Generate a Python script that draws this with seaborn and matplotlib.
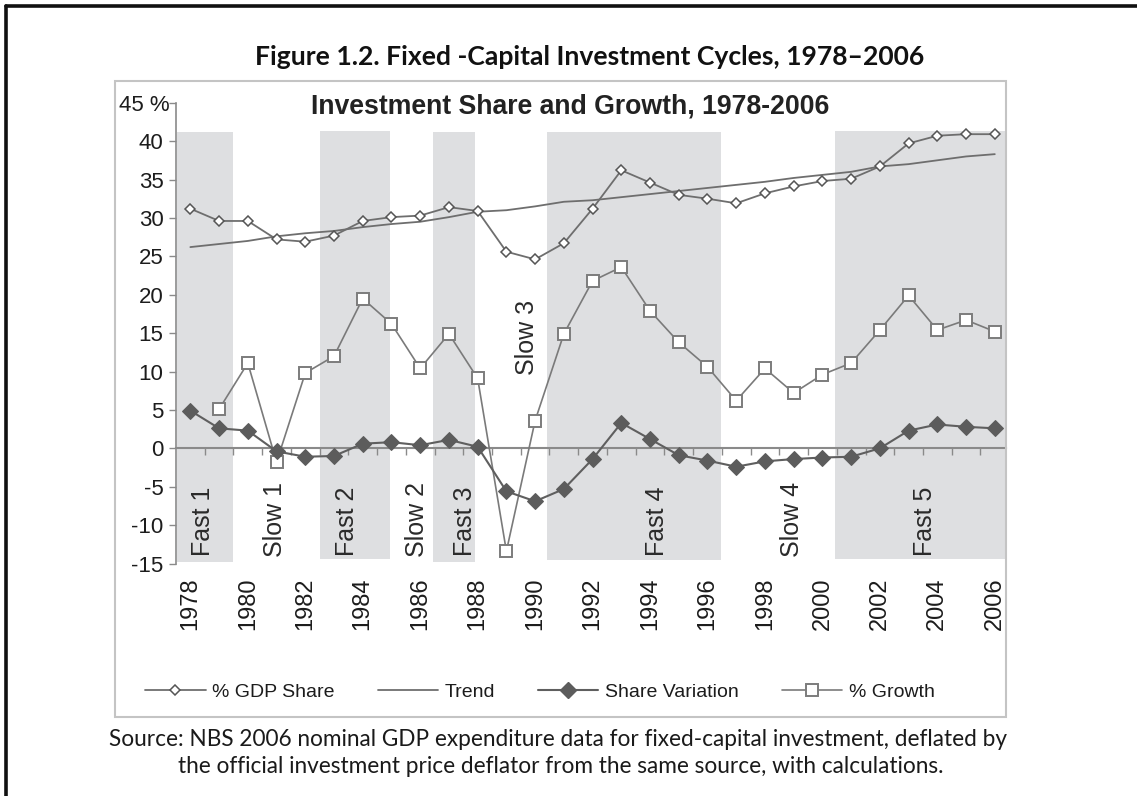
import numpy as np
import pandas as pd
import matplotlib
matplotlib.use("Agg")
import matplotlib.pyplot as plt
import seaborn as sns
from matplotlib.patches import Rectangle
from matplotlib.lines import Line2D

# ---------------- data ----------------
years = list(range(1978, 2007))
gdp_share = [31.2, 29.6, 29.6, 27.2, 26.9, 27.7, 29.6, 30.1, 30.3, 31.4,
             30.9, 25.6, 24.6, 26.7, 31.2, 36.2, 34.6, 33.0, 32.5, 31.9,
             33.2, 34.1, 34.8, 35.1, 36.7, 39.7, 40.7, 40.9, 40.9]
trend = [26.2, 26.6, 27.0, 27.6, 28.0, 28.3, 28.8, 29.2, 29.5, 30.1,
         30.8, 31.0, 31.5, 32.1, 32.3, 32.7, 33.1, 33.5, 33.9, 34.3,
         34.7, 35.2, 35.6, 36.0, 36.7, 37.0, 37.5, 38.0, 38.3]
share_var = [4.9, 2.6, 2.3, -0.4, -1.1, -1.0, 0.6, 0.8, 0.4, 1.1,
             0.2, -5.6, -6.9, -5.3, -1.4, 3.3, 1.2, -0.9, -1.6, -2.4,
             -1.7, -1.4, -1.2, -1.1, 0.0, 2.3, 3.1, 2.8, 2.6]
growth_years = years[1:]
growth = [5.1, 11.1, -1.8, 9.8, 12.0, 19.5, 16.2, 10.4, 14.9, 9.1,
          -13.4, 3.6, 14.9, 21.8, 23.6, 17.9, 13.8, 10.6, 6.2, 10.4,
          7.2, 9.6, 11.1, 15.4, 19.9, 15.4, 16.7, 15.2]

band_start = [1977.54, 1982.52, 1986.44, 1990.41, 2000.43]
band_end = [1979.49, 1984.96, 1987.91, 1996.47, 2006.40]
band_top = [41.2, 41.3, 41.2, 41.2, 41.3]
band_bottom = [-14.8, -14.4, -14.8, -14.6, -14.4]

cycle_names = ["Fast 1", "Slow 1", "Fast 2", "Slow 2", "Fast 3",
               "Slow 3", "Fast 4", "Slow 4", "Fast 5"]
cycle_x = [1978.45, 1980.96, 1983.46, 1985.9, 1987.57,
           1989.71, 1994.23, 1998.93, 2003.57]
cycle_y = [-14.0, -14.1, -14.0, -14.1, -14.0, 9.5, -14.0, -14.1, -14.0]

y_ticks = [-15, -10, -5, 0, 5, 10, 15, 20, 25, 30, 35, 40, 45]
y_tick_labels = ["-15", "-10", "-5", "0", "5", "10", "15", "20", "25",
                 "30", "35", "40", "45 %"]
x_label_years = years[::2]

series_names = ["% GDP Share", "Trend", "Share Variation", "% Growth"]

fig_title = "Figure 1.2. Fixed -Capital Investment Cycles, 1978\u20132006"
chart_title = "Investment Share and Growth, 1978-2006"
source_lines = [
    "Source: NBS 2006 nominal GDP expenditure data for fixed-capital investment, deflated by",
    "the official investment price deflator from the same source, with calculations.",
]

# ---------------- style ----------------
sns.set_theme(style="white")
plt.rcParams["font.family"] = ["Liberation Sans", "DejaVu Sans"]

W, H = 1137, 796
fig = plt.figure(figsize=(W / 100, H / 100), dpi=100)
fig.patch.set_facecolor("white")

def fx(px):
    return px / W

def fy(py):
    return 1 - py / H

ax_left, ax_right, ax_top, ax_bottom = 176, 1006, 102.7, 563.5
ax = fig.add_axes([fx(ax_left), fy(ax_bottom), fx(ax_right - ax_left),
                   (ax_bottom - ax_top) / H])
ax.set_facecolor("none")

line_col = "#6e6e6e"
dark = "#1c1c1c"

# shaded cycle bands
for s, e, t, b in zip(band_start, band_end, band_top, band_bottom):
    ax.fill_between([s, e], [b, b], [t, t], color="#dedfe1", lw=0, zorder=0)

sns.lineplot(x=years, y=trend, ax=ax, color=line_col, linewidth=1.3,
             zorder=3, legend=False)
sns.lineplot(x=years, y=gdp_share, ax=ax, color=line_col, linewidth=1.3,
             marker="D", markersize=5, markerfacecolor="white",
             markeredgecolor="#555555", markeredgewidth=1.1, zorder=4,
             legend=False)
sns.lineplot(x=growth_years, y=growth, ax=ax, color="#7a7a7a", linewidth=1.2,
             marker="s", markersize=9, markerfacecolor="white",
             markeredgecolor="#7c7c7c", markeredgewidth=1.4, zorder=4,
             legend=False)
sns.lineplot(x=years, y=share_var, ax=ax, color="#5f5f5f", linewidth=1.5,
             marker="D", markersize=8, markerfacecolor="#5c5c5c",
             markeredgecolor="#5c5c5c", zorder=5, legend=False)

ax.set_xlim(1977.5, 2006.39)
ax.set_ylim(-15, 45)

for side in ["top", "right"]:
    ax.spines[side].set_visible(False)
ax.spines["left"].set_color("#8a8a8a")
ax.spines["left"].set_linewidth(1.2)
ax.spines["bottom"].set_position(("data", 0))
ax.spines["bottom"].set_color("#8a8a8a")
ax.spines["bottom"].set_linewidth(1.5)
ax.spines["bottom"].set_zorder(2)

ax.set_yticks(y_ticks)
ax.set_yticklabels(y_tick_labels)
ax.tick_params(axis="y", length=5, width=1, color="#8a8a8a", direction="out",
               pad=4, labelsize=16, labelcolor=dark, left=True)
# the "45 %" label sits closer to the axis, as in the original
ax.yaxis.get_major_ticks()[-1].set_pad(-0.6)
ax.set_xticks([])
ax.set_xticks(np.arange(1978.5, 2006, 1.0), minor=True)
ax.tick_params(axis="x", which="minor", length=5, width=1, color="#8a8a8a",
               direction="out", bottom=True)
ax.set_xlabel("")
ax.set_ylabel("")
ax.grid(False)

# year labels at the bottom
sec = ax.secondary_xaxis("bottom")
sec.set_xticks(x_label_years)
sec.set_xticklabels([str(y) for y in x_label_years])
sec.tick_params(length=0, pad=10, labelsize=17, labelcolor=dark,
                labelrotation=90)
sec.spines["bottom"].set_visible(False)

# cycle labels
for name, x, y in zip(cycle_names, cycle_x, cycle_y):
    ax.text(x, y, name, rotation=90, ha="center", va="bottom", fontsize=18,
            color="#2a2a2a", zorder=6)

# inner chart frame
fig.add_artist(Rectangle((fx(115), fy(717)), fx(1006 - 115), (717 - 81) / H,
                         transform=fig.transFigure, fill=False,
                         edgecolor="#c4c4c4", linewidth=1.5))
# outer book frame (left and top edges)
fig.add_artist(Line2D([fx(6), fx(6)], [0, fy(6)], transform=fig.transFigure,
                      color="#111111", linewidth=2.6))
fig.add_artist(Line2D([fx(6), 1], [fy(6), fy(6)], transform=fig.transFigure,
                      color="#111111", linewidth=2.6))

renderer = fig.canvas.get_renderer()

def fit_text(x, y, s, target_w, **kw):
    t = fig.text(x, y, s, **kw)
    w = t.get_window_extent(renderer).width
    t.set_fontsize(t.get_fontsize() * target_w / w)
    return t

fit_text(fx(590), fy(65), fig_title, 670, ha="center", va="baseline",
         fontsize=20, fontweight="bold", family=["Lato", "DejaVu Sans"],
         color="#111111")
fit_text(fx(570), fy(113), chart_title, 520, ha="center", va="baseline",
         fontsize=16, fontweight="bold", color="#222222")
src = fit_text(fx(558), fy(746), source_lines[0], 902, ha="center",
               va="baseline", fontsize=15, family=["Lato", "DejaVu Sans"],
               color="#1a1a1a")
fig.text(fx(561), fy(773), source_lines[1], ha="center", va="baseline",
         fontsize=src.get_fontsize(), family=["Lato", "DejaVu Sans"],
         color="#1a1a1a")

# legend
handles = [
    Line2D([], [], color=line_col, lw=1.3, marker="D", markersize=5,
           markerfacecolor="white", markeredgecolor="#555555",
           markeredgewidth=1.1),
    Line2D([], [], color=line_col, lw=1.3),
    Line2D([], [], color="#5f5f5f", lw=1.5, marker="D", markersize=8,
           markerfacecolor="#5c5c5c", markeredgecolor="#5c5c5c"),
    Line2D([], [], color="#7a7a7a", lw=1.2, marker="s", markersize=9,
           markerfacecolor="white", markeredgecolor="#7c7c7c",
           markeredgewidth=1.4),
]
fig.legend(handles, series_names, loc="center",
           bbox_to_anchor=(fx(540), fy(692)), ncol=4, frameon=False,
           fontsize=14, handlelength=3.1, handletextpad=0.35,
           columnspacing=2.2, labelcolor=dark)

fig.savefig("out.png", dpi=100, facecolor="white")
